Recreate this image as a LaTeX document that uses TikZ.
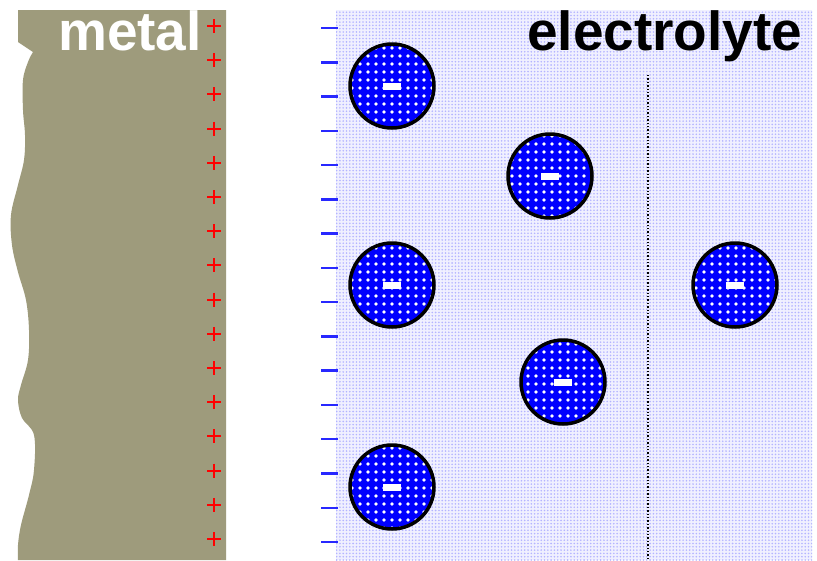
\documentclass[tikz,border=0pt]{standalone}
\usepackage{fontspec}
\setmainfont{Liberation Sans}
\usetikzlibrary{patterns.meta}
\definecolor{metalc}{RGB}{158,155,124}
\definecolor{dotc}{RGB}{180,180,255}
\definecolor{bathc}{RGB}{240,240,255}
\definecolor{ionblue}{RGB}{0,0,255}
\definecolor{minusc}{RGB}{40,40,255}
\definecolor{plusc}{RGB}{255,0,0}
\begin{document}
\begin{tikzpicture}[x=1pt,y=-1pt,
  ion/.style={circle, minimum size=84pt, inner sep=0pt,
    preaction={fill=ionblue},
    pattern={Dots[distance=8pt,radius=1.9pt]}, pattern color=white,
    draw=black, line width=3.5pt},
  label/.style={font=\bfseries\fontsize{55}{55}\selectfont, inner sep=0pt, anchor=base west},
  chargeline/.style={line width=2.5pt}]
\useasboundingbox (0,0) rectangle (817,560);
\fill[white] (0,0) rectangle (817,560);

% electrolyte region with dotted fill
\fill[bathc, postaction={pattern={Dots[distance=3.3pt,radius=0.9pt]}, pattern color=dotc}]
  (336,10) rectangle (812,560);

% metal with rough left surface
\fill[metalc] (226,10) -- (18,10) -- (18,42) -- (33,52)
  -- plot[smooth, tension=0.6] coordinates {(33,52) (28,62) (23,80) (23,110) (25,135)
     (24,160) (18,185) (11,215) (12,245) (18,272) (26,300) (29,330) (28,360)
     (21,385) (18,400) (22,418) (34,435) (34,470) (29,495) (21,525) (18,545) (18,560)}
  -- (226,560) -- cycle;

% surface charges
\foreach \i in {0,...,15}{
  \draw[plusc, line width=2pt] (207,26+34.2*\i) -- (221,26+34.2*\i)
    (214,19+34.2*\i) -- (214,33+34.2*\i);
  \draw[minusc, chargeline] (321,28+34.27*\i) -- (338,28+34.27*\i);
}

% boundary of the diffuse layer
\coordinate (dtop) at (648,75);
\coordinate (dbot) at (648,560);
\draw[black, dotted, line width=1.4pt] (dtop) -- (dbot);

% anions
\foreach \n/\x/\y in {i1/392/86, i2/550/176, i3/392/285, i4/563/382, i5/392/487, i6/735/285}{
  \node[ion] (\n) at (\x,\y) {\textcolor{white}{\rule[-3.5pt]{18pt}{7pt}}};
}

% labels
\node[label, text=white] (metal) at (58,50) {metal};
\node[label, text=black] (electrolyte) at (527,50) {electrolyte};
\end{tikzpicture}
\end{document}
